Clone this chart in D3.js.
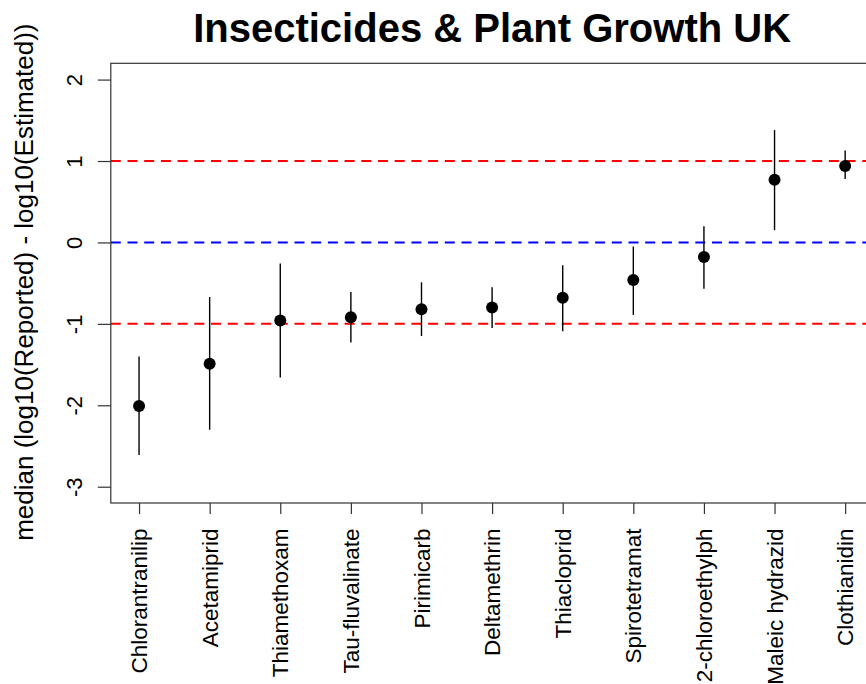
<!DOCTYPE html>
<html>
<head>
<meta charset="utf-8">
<script src="https://cdn.jsdelivr.net/npm/d3@7/dist/d3.min.js"></script>
<style>
  html, body { margin: 0; padding: 0; background: #fff; }
  svg { display: block; }
  text { font-family: "Liberation Sans", Arial, sans-serif; fill: #000; }
</style>
</head>
<body>
<svg id="chart" width="866" height="684"></svg>
<script>
// Substances, ordered by median
const substances = [
  "Chlorantranilip", "Acetamiprid", "Thiamethoxam", "Tau-fluvalinate",
  "Pirimicarb", "Deltamethrin", "Thiacloprid", "Spirotetramat",
  "2-chloroethylph", "Maleic hydrazid", "Clothianidin"
];
// median of log10(Reported) - log10(Estimated)
const medians = [-2.01, -1.49, -0.96, -0.92, -0.82, -0.80, -0.68, -0.46, -0.18, 0.77, 0.94];
// interval bounds
const lower = [-2.61, -2.30, -1.66, -1.23, -1.15, -1.05, -1.09, -0.89, -0.57, 0.15, 0.78];
const upper = [-1.40, -0.67, -0.26, -0.61, -0.49, -0.55, -0.28, -0.05, 0.20, 1.38, 1.13];
const yTicks = [-3, -2, -1, 0, 1, 2];
// reference lines
const refLines = [
  { value: 1, color: "#ff0000" },
  { value: 0, color: "#0000ff" },
  { value: -1, color: "#ff0000" }
];

const svg = d3.select("#chart");
const plot = { left: 110.8, right: 873.4, top: 63.3, bottom: 503 };

// indices 1..n with R-style 4% padding
const n = substances.length;
const x = d3.scaleLinear()
  .domain([1 - 0.04 * (n - 1), n + 0.04 * (n - 1)])
  .range([plot.left, plot.right]);
const y = d3.scaleLinear()
  .domain([-3 - 0.2, 2 + 0.2])
  .range([plot.bottom, plot.top]);

// clip to plot area
svg.append("defs").append("clipPath").attr("id", "plotclip")
  .append("rect")
  .attr("x", plot.left).attr("y", plot.top)
  .attr("width", plot.right - plot.left).attr("height", plot.bottom - plot.top);

// reference lines
svg.append("g").attr("clip-path", "url(#plotclip)")
  .selectAll("line").data(refLines).join("line")
  .attr("x1", plot.left).attr("x2", plot.right)
  .attr("y1", d => y(d.value)).attr("y2", d => y(d.value))
  .attr("stroke", d => d.color)
  .attr("stroke-width", 2)
  .attr("stroke-dasharray", "10,6.7");

// intervals
const idx = d3.range(n);
svg.append("g").selectAll("line").data(idx).join("line")
  .attr("x1", i => x(i + 1)).attr("x2", i => x(i + 1))
  .attr("y1", i => y(lower[i])).attr("y2", i => y(upper[i]))
  .attr("stroke", "#000").attr("stroke-width", 1.4);

// medians
svg.append("g").selectAll("circle").data(idx).join("circle")
  .attr("cx", i => x(i + 1)).attr("cy", i => y(medians[i]))
  .attr("r", 6).attr("fill", "#000");

// frame
svg.append("rect")
  .attr("x", plot.left).attr("y", plot.top)
  .attr("width", plot.right - plot.left).attr("height", plot.bottom - plot.top)
  .attr("fill", "none").attr("stroke", "#333").attr("stroke-width", 1.2);

// y axis
const yAxis = svg.append("g")
  .attr("transform", `translate(${plot.left},0)`)
  .call(d3.axisLeft(y).tickValues(yTicks).tickSize(13).tickFormat(d3.format("d")));
yAxis.select(".domain").remove();
yAxis.selectAll(".tick line").attr("stroke", "#333").attr("stroke-width", 1.2);
yAxis.selectAll(".tick text")
  .attr("x", null).attr("dy", null)
  .attr("font-size", 22)
  .attr("text-anchor", "middle")
  .attr("transform", `translate(${81.7 - plot.left},0) rotate(-90)`)
  .text(d => d < 0 ? "-" + Math.abs(d) : String(d));

// x axis
const xAxis = svg.append("g")
  .attr("transform", `translate(0,${plot.bottom})`)
  .call(d3.axisBottom(x).tickValues(idx.map(i => i + 1)).tickSize(11).tickFormat(""));
xAxis.select(".domain").remove();
xAxis.selectAll(".tick line").attr("stroke", "#333").attr("stroke-width", 1.2);

svg.append("g").selectAll("text").data(idx).join("text")
  .attr("transform", i => `translate(${x(i + 1)},${528.5}) rotate(-90)`)
  .attr("dy", "0.36em")
  .attr("text-anchor", "end")
  .attr("font-size", 22.5)
  .text(i => substances[i]);

// y axis title
svg.append("text")
  .attr("transform", `translate(33.3,${(plot.top + plot.bottom) / 2 - 1}) rotate(-90)`)
  .attr("text-anchor", "middle")
  .attr("font-size", 26)
  .text("median (log10(Reported) - log10(Estimated))");

// title
svg.append("text")
  .attr("x", (plot.left + plot.right) / 2)
  .attr("y", 42.3)
  .attr("text-anchor", "middle")
  .attr("font-size", 40)
  .attr("font-weight", "bold")
  .text("Insecticides & Plant Growth UK");
</script>
</body>
</html>
